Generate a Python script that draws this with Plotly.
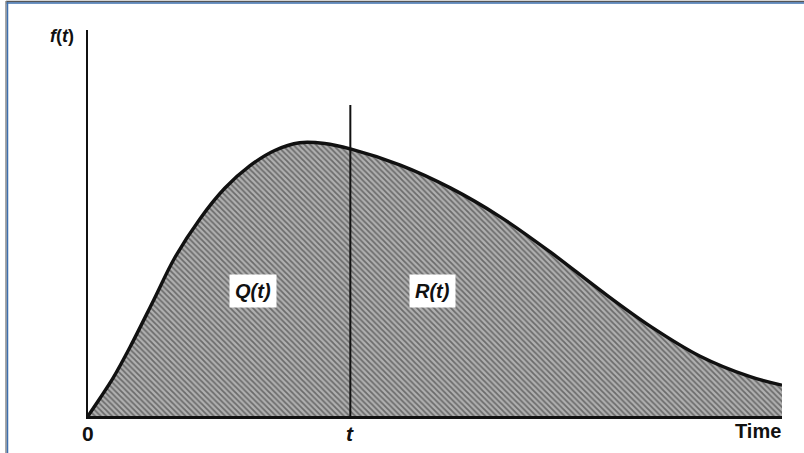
import plotly.graph_objects as go

# Failure density f(t) sampled along the time axis
time_vals = [0.0, 0.18, 0.36, 0.61, 0.94, 1.25, 1.61, 1.97, 2.33, 2.69, 3.05,
             3.41, 3.78, 4.50, 5.22, 5.94, 6.66, 7.38, 8.10, 8.82, 9.54, 10.0]
density = [0.0, 0.048, 0.098, 0.180, 0.298, 0.410, 0.510, 0.590, 0.648, 0.688, 0.708,
           0.706, 0.692, 0.650, 0.591, 0.516, 0.425, 0.326, 0.233, 0.155, 0.102, 0.080]

t_mark = 3.78          # time t that splits Q(t) and R(t)
t_line_top = 0.806     # height of the marker line at t
q_label_x = 2.38
r_label_x = 4.96
label_y = 0.325
time_label_x = 9.66

FONT = "Liberation Sans, Arial, sans-serif"

fig = go.Figure()

# Hatched area under the density curve
fig.add_trace(go.Scatter(
    x=time_vals, y=density, mode="lines",
    line=dict(color="#111111", width=3.4, shape="spline", smoothing=1.0),
    fill="tozeroy",
    fillpattern=dict(shape="\\", fgcolor="#262626", bgcolor="#b0b0b0",
                     size=4, solidity=0.45),
    hoverinfo="skip", showlegend=False,
))

# Vertical line at t
fig.add_trace(go.Scatter(
    x=[t_mark, t_mark], y=[0, t_line_top], mode="lines",
    line=dict(color="#111111", width=2), hoverinfo="skip", showlegend=False,
))

annotations = []
for xv, txt in [(q_label_x, "Q(<i>t</i>)"), (r_label_x, "R(<i>t</i>)")]:
    annotations.append(dict(
        x=xv, y=label_y, xref="x", yref="y", showarrow=False,
        text="<b><i>" + txt + "</i></b>",
        font=dict(family=FONT, size=20, color="#111111"),
        bgcolor="white", borderpad=5,
    ))

annotations += [
    dict(x=0, y=0, xref="x", yref="paper", yanchor="top", yshift=-4, showarrow=False,
         text="<b>0</b>", font=dict(family=FONT, size=21, color="#111111")),
    dict(x=t_mark, y=0, xref="x", yref="paper", yanchor="top", yshift=-4, showarrow=False,
         text="<b><i>t</i></b>", font=dict(family=FONT, size=21, color="#111111")),
    dict(x=time_label_x, y=0, xref="x", yref="paper", yanchor="top", yshift=-2, showarrow=False,
         text="<b>Time</b>", font=dict(family=FONT, size=20, color="#111111")),
    dict(x=0, y=1, xref="x", yref="paper", yanchor="middle", xshift=-26, yshift=-6,
         showarrow=False,
         text="<b><i>f</i>(<i>t</i>)</b>", font=dict(family=FONT, size=18, color="#111111")),
]

# Frame lines along the top and left edges of the page
W, H = 804, 453
L, R, T, B = 88, 22, 30, 37
pw, ph = W - L - R, H - T - B

def px(xp):
    return (xp - L) / pw

def py(yp):
    return (H - B - yp) / ph

shapes = [
    dict(type="line", xref="paper", yref="paper", x0=px(6), x1=px(W), y0=py(1.5), y1=py(1.5),
         line=dict(color="#555555", width=1.5)),
    dict(type="line", xref="paper", yref="paper", x0=px(6), x1=px(W), y0=py(3), y1=py(3),
         line=dict(color="#3d6fae", width=1.5)),
    dict(type="line", xref="paper", yref="paper", x0=px(6), x1=px(6), y0=py(1), y1=py(H),
         line=dict(color="#8a8a8a", width=1.5)),
    dict(type="line", xref="paper", yref="paper", x0=px(7.5), x1=px(7.5), y0=py(2), y1=py(H),
         line=dict(color="#3d6fae", width=1.5)),
]

fig.update_layout(
    width=W, height=H,
    margin=dict(l=L, r=R, t=T, b=B),
    paper_bgcolor="white", plot_bgcolor="white",
    showlegend=False,
    annotations=annotations,
    shapes=shapes,
    xaxis=dict(range=[0, 10], showgrid=False, zeroline=False, showticklabels=False,
               ticks="", showline=True, linecolor="#111111", linewidth=2.5, fixedrange=True),
    yaxis=dict(range=[0, 1], showgrid=False, zeroline=False, showticklabels=False,
               ticks="", showline=True, linecolor="#111111", linewidth=2, fixedrange=True),
)

fig.write_html("out.html", config={"displayModeBar": False})
